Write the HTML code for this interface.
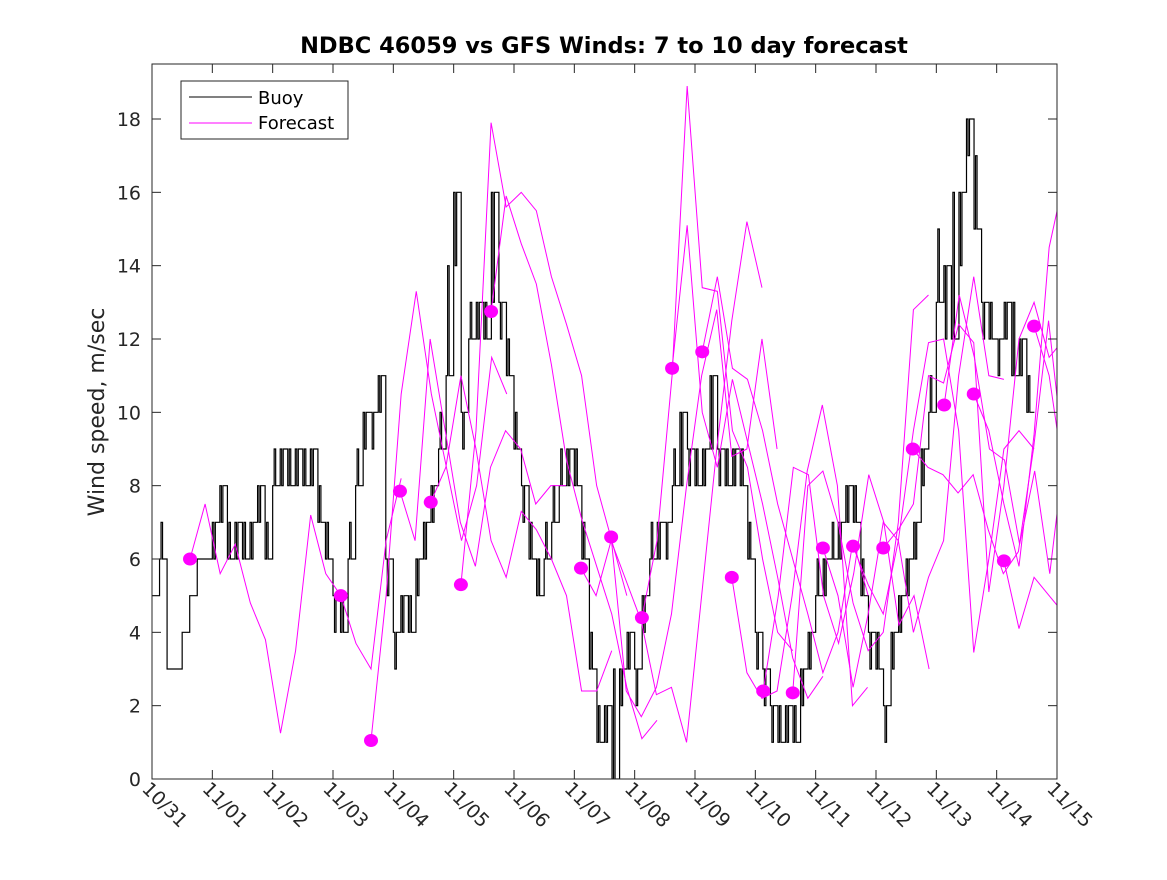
<!DOCTYPE html>
<html><head><meta charset="utf-8"><style>
body{margin:0;background:#fff;}
svg text{font-family:"DejaVu Sans","Liberation Sans",sans-serif;}
</style></head><body>
<svg id="c" width="1167" height="875" xmlns="http://www.w3.org/2000/svg">
<rect width="1167" height="875" fill="#fff"/>
<defs><clipPath id="clip"><rect x="152" y="64" width="905" height="715"/></clipPath></defs>
<text x="604" y="53" text-anchor="middle" font-size="22.5" font-weight="bold">NDBC 46059 vs GFS Winds: 7 to 10 day forecast</text>
<text transform="translate(104,412) rotate(-90)" text-anchor="middle" font-size="22" fill="#262626">Wind speed, m/sec</text>
<g id="plot" clip-path="url(#clip)"></g>
<g id="axes"></g>
<g>
<rect x="181" y="81" width="167" height="58" fill="#fff" stroke="#262626" stroke-width="1"/>
<line x1="189" y1="97" x2="252" y2="97" stroke="#000" stroke-width="1"/>
<text x="258" y="104" font-size="18">Buoy</text>
<line x1="189" y1="123" x2="252" y2="123" stroke="#f0f" stroke-width="1"/>
<text x="258" y="129" font-size="18">Forecast</text>
</g>
</svg>
<script>
const xTickLabels=["10/31","11/01","11/02","11/03","11/04","11/05","11/06","11/07","11/08","11/09","11/10","11/11","11/12","11/13","11/14","11/15"];
const yTicks=[0,2,4,6,8,10,12,14,16,18];
const buoyStep=0.125;
const buoy=[5,6,3,3,4,5,6,6, 7,8,6,7,6,7,8,6, 8,9,8,9,8,9,7,6, 5,4,6,8,10,10,11,6, 4,5,4,6,7,8,9,11,
 16,10,12,13,12,16,13,11, 9,8,6,5,6,7,8,9, 8,6,3,1,2,0,3,4, 3,5,6,7,7,8,10,9, 8,9,11,9,8,9,8,6,
 4,3,2,1,2,1,3,4, 5,6,6,7,8,7,5,4, 3,2,4,5,6,7,9,10, 13,14,12,16,18,15,13,12, 12,13,11,12,10];
const buoyJitter=[5,7,3,3,4,5,6,6, 6,7,7,6,7,6,7,7, 9,8,9,8,9,8,8,7, 4,5,7,9,9,9,10,5, 3,4,5,5,6,7,10,14,
 14,9,13,12,13,13,12,12, 10,7,7,6,7,8,9,8, 9,7,4,2,1,3,2,3, 2,4,7,6,6,9,8,8, 9,8,9,8,9,8,9,7,
 3,2,1,2,1,2,2,3, 6,5,7,6,7,8,6,3, 4,1,3,4,5,6,8,11, 15,12,16,14,17,17,12,13, 11,12,13,11,11];
const fcStep=0.25;
const fcStarts=[0.63,3.13,3.63,4.11,4.62,5.12,5.62,7.11,7.61,8.12,8.62,9.12,9.61,10.13,10.62,11.12,11.62,12.12,12.61,13.13,13.62,14.12,14.62];
const fcValues=[
[6.0,7.5,5.6,6.4,4.8,3.8,1.25,3.5,7.2,5.6,5.0],
[5.0,3.7,3.0,6.5,8.2],
[1.05,5.0,10.5,13.3,10.5,8.5,6.5,8.0,11.5,10.5],
[7.85,6.5,12.0,9.5,7.0,5.8,8.5,9.5,9.0,7.5,8.0,8.0],
[7.55,8.5,11.0,9.0,6.5,5.5,7.3,6.8,6.0,5.0,2.4,2.4,3.5],
[5.3,9.5,17.9,15.6,16.0,15.5,13.7,12.4,11.0,8.0,6.5,5.0],
[12.75,15.9,14.6,13.5,11.3,8.7,7.1,5.8,4.5,2.5,1.1,1.6],
[5.75,5.0,6.5,5.4,4.3,2.3,2.5,1.0,5.0,9.0,12.5,15.2,13.4],
[6.6,2.4,1.7,2.5,4.5,8.0,11.0,12.8,8.8,9.0,12.0,9.0],
[4.4,6.5,11.0,18.9,13.4,13.3,9.5,8.5,6.0,4.0,3.5],
[11.2,15.1,10.0,8.5,10.9,9.2,7.5,5.5,3.3,2.2,2.8],
[11.65,13.7,11.2,10.9,9.5,7.5,6.0,4.5,2.9,4.0,6.5,5.0],
[5.5,2.9,2.2,2.4,5.0,8.4,10.2,8.0,2.0,2.5],
[2.4,5.0,8.5,8.3,5.0,3.7,5.6,8.3,7.0,4.2,5.0,3.0],
[2.35,8.0,8.4,7.0,4.8,3.5,4.0,7.0,12.8,13.2],
[6.3,5.0,2.5,4.5,7.0,6.5,4.0,5.5,6.5,11.0,13.7,11.0,10.9],
[6.35,5.3,4.5,6.5,9.5,11.9,12.0,9.5,3.45,6.0,9.0,9.5,9.0],
[6.3,6.8,7.5,11.0,10.8,12.4,11.9,5.1,8.0,12.0,13.0,11.5,12.0],
[9.0,8.5,8.3,7.8,8.3,6.8,5.6,6.2,9.0,12.5,8.8,8.4],
[10.2,13.2,11.5,9.0,8.7,6.4,8.4,5.6,9.0,16.0,16.6,14.0],
[10.5,9.5,7.5,5.8,9.4,14.5,16.4,14.2,14.8,9.5,5.4,6.7],
[5.95,4.1,5.5,5.0,4.5,5.0],
[12.35,11.0,8.2,10.0,9.5,10.4]
];
const L=152,R=1057,T=64,B=779,XMAX=15,YMAX=19.5;
const sx=d=>L+d*(R-L)/XMAX, sy=v=>B-v*(B-T)/YMAX;
const NS="http://www.w3.org/2000/svg";
const plot=document.getElementById('plot'), axes=document.getElementById('axes');
function mk(tag,attrs,parent){const e=document.createElementNS(NS,tag);for(const k in attrs)e.setAttribute(k,attrs[k]);parent.appendChild(e);return e;}
let d='';
for(let i=0;i<buoy.length;i++){
  const x0=sx(i*buoyStep),x1=sx((i+1)*buoyStep);
  const j=buoyJitter[i];
  if(i===0)d+='M'+x0+','+sy(buoy[i]);else d+='L'+x0+','+sy(buoy[i]);
  d+='L'+(x0+1.5)+','+sy(buoy[i])+'L'+(x0+1.5)+','+sy(j)+'L'+(x0+3)+','+sy(j)+'L'+(x0+3)+','+sy(buoy[i]);
  d+='L'+x1+','+sy(buoy[i]);
}
const bp=mk('path',{d:d,fill:'none',stroke:'#000','stroke-width':1.2},plot);


fcValues.forEach((vals,k)=>{
  const pts=vals.map((v,i)=>sx(fcStarts[k]+i*fcStep)+','+sy(v)).join(' ');
  const pl=mk('polyline',{points:pts,fill:'none',stroke:'#f0f','stroke-width':1},plot);
  
  
});
fcValues.forEach((vals,k)=>{
  const c=mk('ellipse',{cx:sx(fcStarts[k]),cy:sy(vals[0]),rx:7,ry:6.5,fill:'#f0f'},plot);
  
  
});
const box=mk('rect',{x:L,y:T,width:R-L,height:B-T,fill:'none',stroke:'#262626','stroke-width':1},axes);


yTicks.forEach(v=>{
  mk('line',{x1:L,x2:L+9,y1:sy(v),y2:sy(v),stroke:'#262626'},axes);
  mk('line',{x1:R,x2:R-9,y1:sy(v),y2:sy(v),stroke:'#262626'},axes);
  const t=mk('text',{x:L-11,y:sy(v)+7,'text-anchor':'end','font-size':19,fill:'#262626'},axes);
  t.textContent=v;
  
  
});
xTickLabels.forEach((lab,i)=>{
  const x=sx(i);
  mk('line',{x1:x,x2:x,y1:B,y2:B-9,stroke:'#262626'},axes);
  mk('line',{x1:x,x2:x,y1:T,y2:T+9,stroke:'#262626'},axes);
  const t=mk('text',{transform:'translate('+(x-11)+','+(B+11)+') rotate(45)','font-size':19,fill:'#262626'},axes);
  t.textContent=lab;
  
  
});
</script>
</body></html>
